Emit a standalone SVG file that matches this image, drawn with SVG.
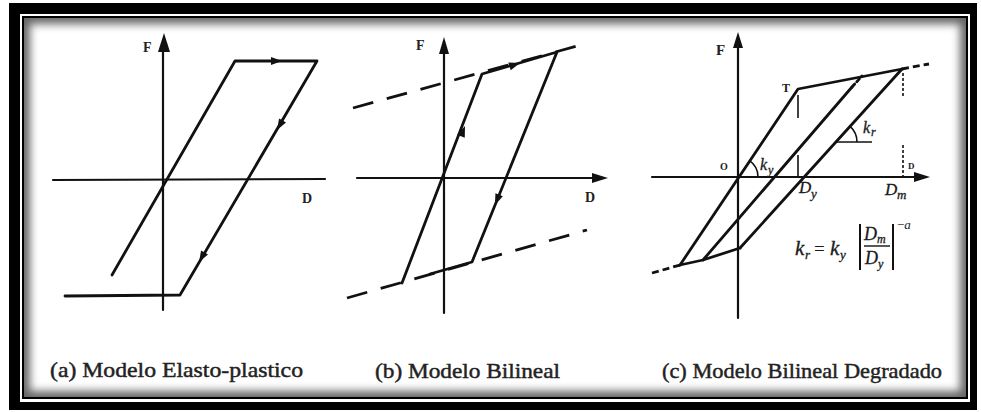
<svg xmlns="http://www.w3.org/2000/svg" xmlns:xlink="http://www.w3.org/1999/xlink" width="981" height="412" viewBox="0 0 981 412">
  <defs>
    <style>
      .ax{stroke:#111;stroke-width:2.2;fill:none;stroke-linecap:round}
      .ln{stroke:#111;stroke-width:2.8;fill:none;stroke-linejoin:round;stroke-linecap:round}
      .th{stroke:#111;stroke-width:1.6;fill:none}
      .ds{stroke:#111;stroke-width:2.8;fill:none}
      .dt{stroke:#111;stroke-width:1.6;fill:none;stroke-dasharray:3 2}
      .lab{font-family:"Liberation Serif","DejaVu Serif",serif;font-weight:bold;fill:#222}
      .mi{font-family:"Liberation Serif","DejaVu Serif",serif;font-style:italic;fill:#1a1a1a;stroke:#1a1a1a;stroke-width:0.3}
      .mr{font-family:"Liberation Serif","DejaVu Serif",serif;fill:#1a1a1a}
      .cap{font-family:"Liberation Serif","DejaVu Serif",serif;font-size:21px;fill:#222;stroke:#222;stroke-width:0.45}
      .ah{fill:#111}
    </style>
    <path id="ah" d="M0,0 L-11,-4 L-11,4 Z"/>
    <filter id="blur" x="-5%" y="-5%" width="110%" height="110%">
      <feGaussianBlur stdDeviation="4"/>
    </filter>
    <clipPath id="inner"><rect x="24" y="18" width="942" height="379"/></clipPath>
  </defs>

  <!-- frame -->
  <g id="frame">
    <rect x="0" y="0" width="981" height="412" fill="#fff"/>
    <rect x="9" y="3" width="968" height="407" fill="#000"/>
    <rect x="20" y="14" width="950" height="388" fill="#fff"/>
    <rect x="22" y="16" width="946" height="383" fill="#000"/>
    <rect x="24" y="18" width="942" height="379" fill="#666"/>
    <g clip-path="url(#inner)">
      <rect x="30" y="24" width="930" height="367" fill="#fff" filter="url(#blur)"/>
    </g>
  </g>

  <!-- (a) -->
  <g id="panel-a">
    <line class="ax" x1="163" y1="40" x2="163" y2="310"/>
    <polygon class="ah" points="164,33 158,52 170,52"/>
    <line class="ax" x1="53" y1="180" x2="325" y2="179"/>
    <text class="lab" x="143" y="52" font-size="14">F</text>
    <text class="lab" x="302" y="203" font-size="14">D</text>
    <path class="ln" d="M112,275 L235,61 L317,61 L180,295 L65,296"/>
    <use xlink:href="#ah" class="ah" transform="translate(282,61)"/>
    <use xlink:href="#ah" class="ah" transform="translate(277,130) rotate(120.35)"/>
    <use xlink:href="#ah" class="ah" transform="translate(199,262) rotate(120.35)"/>
  </g>

  <!-- (b) -->
  <g id="panel-b">
    <line class="ax" x1="444" y1="44" x2="444" y2="313"/>
    <polygon class="ah" points="444,37 439,54 449,54"/>
    <line class="ax" x1="357" y1="178" x2="600" y2="178"/>
    <polygon class="ah" points="608,178 592,173 592,183"/>
    <text class="lab" x="416" y="50" font-size="14">F</text>
    <text class="lab" x="585" y="202" font-size="14">D</text>
    <line class="ds" style="stroke-dasharray:21 14" x1="353" y1="108" x2="588" y2="43"/>
    <line class="ds" style="stroke-dasharray:21 14" x1="347" y1="298" x2="587" y2="230"/>
    <path class="ln" d="M402,283 L482,74 L557,52 L472,262 L430,274"/>
    <use xlink:href="#ah" class="ah" transform="translate(465,126) rotate(-68.9)"/>
    <use xlink:href="#ah" class="ah" transform="translate(495,205) rotate(112)"/>
    <use xlink:href="#ah" class="ah" transform="translate(520,63) rotate(-17.7)"/>
  </g>

  <!-- (c) -->
  <g id="panel-c">
    <line class="ax" x1="738" y1="40" x2="738" y2="318"/>
    <polygon class="ah" points="738,32 733,48 743,48"/>
    <line class="ax" x1="652" y1="177" x2="920" y2="177"/>
    <polygon class="ah" points="930,177 914,172 914,182"/>
    <line class="ds" style="stroke-dasharray:7 4" x1="652" y1="273" x2="680" y2="265"/>
    <line class="ds" style="stroke-dasharray:7 4" x1="902" y1="69" x2="929" y2="64"/>
    <path class="ln" d="M680,265 L703,260 L740,248"/>
    <path class="ln" d="M680,265 L798,89 L902,69"/>
    <path class="ln" d="M703,260 L852,87"/>
    <line class="ln" style="stroke-dasharray:4 3" x1="852" y1="87" x2="862" y2="76"/>
    <path class="ln" d="M740,248 L902,69"/>
    <line class="th" x1="798" y1="95" x2="798" y2="118"/>
    <line class="th" x1="798" y1="155" x2="798" y2="177"/>
    <line class="dt" x1="903" y1="73" x2="903" y2="97"/>
    <line class="dt" x1="903" y1="145" x2="903" y2="177"/>
    <path class="th" d="M758,177 A20,20 0 0,0 749.1,160.4"/>
    <line class="th" x1="836" y1="142" x2="872" y2="142"/>
    <path class="th" d="M857,142 A21,21 0 0,0 850.1,126.4"/>
    <text class="lab" x="716" y="55" font-size="15">F</text>
    <text class="lab" x="720" y="170" font-size="10">O</text>
    <text class="lab" x="782" y="92" font-size="12">T</text>
    <text class="lab" x="908" y="169" font-size="9">D</text>
    <text class="mi" x="760" y="170" font-size="16">k</text>
    <text class="mi" x="768" y="174" font-size="12">y</text>
    <text class="mi" x="863" y="133" font-size="16">k</text>
    <text class="mi" x="871" y="136" font-size="12">r</text>
    <text class="mi" x="799" y="193" font-size="17">D</text>
    <text class="mi" x="811" y="198" font-size="13">y</text>
    <text class="mi" x="885" y="195" font-size="17">D</text>
    <text class="mi" x="897" y="199" font-size="13">m</text>
    <!-- formula -->
    <text class="mi" x="795" y="255" font-size="21">k</text>
    <text class="mi" x="805" y="259" font-size="13">r</text>
    <text class="mr" x="814" y="255" font-size="19">=</text>
    <text class="mi" x="830" y="255" font-size="21">k</text>
    <text class="mi" x="840" y="259" font-size="13">y</text>
    <line x1="860" y1="224" x2="860" y2="270" stroke="#111" stroke-width="2"/>
    <line x1="893" y1="224" x2="893" y2="270" stroke="#111" stroke-width="2"/>
    <text class="mi" x="864" y="240" font-size="18">D</text>
    <text class="mi" x="877" y="243" font-size="12">m</text>
    <line x1="864" y1="246" x2="890" y2="246" stroke="#111" stroke-width="1.4"/>
    <text class="mi" x="865" y="264" font-size="18">D</text>
    <text class="mi" x="878" y="268" font-size="12">y</text>
    <text class="mr" x="897" y="229" font-size="13">−<tspan font-style="italic">a</tspan></text>
  </g>

  <!-- captions -->
  <g id="captions">
    <text class="cap" x="50" y="377" textLength="253" lengthAdjust="spacingAndGlyphs">(a) Modelo Elasto-plastico</text>
    <text class="cap" x="375" y="378" textLength="185" lengthAdjust="spacingAndGlyphs">(b) Modelo Bilineal</text>
    <text class="cap" x="662" y="378" textLength="280" lengthAdjust="spacingAndGlyphs">(c) Modelo Bilineal Degradado</text>
  </g>
</svg>
